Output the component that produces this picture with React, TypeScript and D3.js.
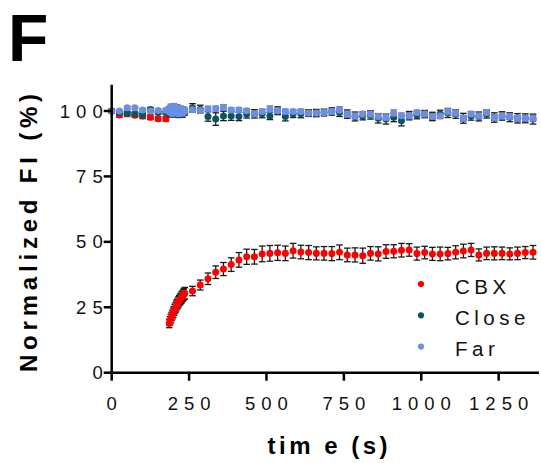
import React from "react";
import * as d3 from "d3";

const times = [0,25,50,75,100,125,150,175,
186,188.5,191,193.5,196,198.5,201,203.5,206,208.5,211,213.5,216,218.5,221,223.5,226,228.5,231,233.5,236,
261,286,311,336,361,386,411,436,461,486,511,536,561,586,611,636,661,686,711,736,761,786,811,836,861,886,911,936,961,986,1011,1036,1061,1086,1111,1136,1161,1186,1211,1236,1261,1286,1311,1336,1361];

const cbx = [100.0,98.5,98.9,98.4,98.1,97.6,97.0,97.0,
18.8,19.8,20.7,21.5,22.2,22.9,23.6,24.3,24.9,25.5,26.1,26.6,27.1,27.6,28.0,28.4,28.8,29.2,29.6,30.0,30.4,
31.2,33.5,35.9,38.4,39.6,41.3,43.1,44.3,44.3,45.4,45.6,45.8,45.6,46.6,46.1,45.9,45.6,45.6,45.5,46.0,45.0,45.0,44.7,45.6,45.4,46.3,46.4,46.8,46.9,45.5,45.9,45.4,45.4,45.5,46.0,46.5,46.9,45.0,45.6,45.6,45.6,45.4,45.6,45.9,46.0];
const cbxErr = [0.8,0.9,1.0,0.8,1.0,0.9,0.8,0.9,
1.6,1.6,1.7,1.6,1.7,1.8,1.7,1.8,1.8,1.9,1.8,1.9,2.0,1.9,2.0,2.0,2.1,2.0,2.1,2.1,2.2,
1.8,1.9,2.2,2.4,2.5,2.6,2.8,2.9,2.8,3.0,3.0,2.9,2.8,2.8,2.6,2.7,2.5,2.6,2.7,2.8,2.6,2.7,2.9,2.6,2.7,2.6,2.5,2.6,2.4,2.5,2.4,2.5,2.6,2.4,2.5,2.6,2.5,2.3,2.4,2.5,2.4,2.3,2.4,2.3,2.6];

const close = [100.0,99.4,99.1,98.9,98.5,100.6,99.4,99.4,
100.2,99.0,100.8,99.6,98.8,100.4,101.2,99.5,98.9,100.0,100.9,99.3,98.6,99.8,100.5,99.2,99.7,98.8,100.1,99.4,99.6,
101.2,100.7,97.9,96.9,98.1,98.1,97.9,98.8,98.9,98.9,98.1,100.1,97.9,98.9,98.9,99.2,99.2,99.4,
99.8,99.4,98.8,97.9,98.1,98.5,97.2,96.9,97.6,96.3,98.2,98.5,98.8,97.9,98.8,99.2,98.8,97.2,98.1,97.9,98.8,97.5,98.1,97.6,97.2,97.2,96.9];
const closeErr = [0.5,0.6,0.6,0.7,0.6,0.7,0.6,0.6,
1.0,1.1,1.0,1.2,1.1,1.0,1.2,1.1,1.0,1.1,1.2,1.0,1.1,1.2,1.0,1.1,1.0,1.2,1.1,1.0,1.1,
1.6,1.5,1.8,2.4,1.8,1.7,1.6,1.5,1.6,1.5,1.4,1.5,1.7,1.4,1.5,1.3,1.4,1.3,
1.4,1.5,1.6,1.7,1.5,1.6,1.8,1.9,1.7,2.0,1.6,1.5,1.4,1.6,1.5,1.7,1.6,1.9,1.6,1.7,1.5,1.8,1.6,1.7,1.8,1.7,1.9];

const far = [100.0,100.0,101.2,101.2,100.4,100.0,100.2,100.3,
100.8,99.5,101.5,100.2,99.0,100.9,101.8,100.0,99.3,100.6,101.2,99.8,98.9,100.4,101.0,99.6,100.2,99.1,100.5,99.8,100.1,
100.5,100.2,100.8,100.9,101.4,100.4,100.4,100.1,98.9,99.8,100.7,100.1,99.8,99.8,99.8,99.2,99.2,99.4,
99.8,100.4,98.8,98.1,98.8,98.8,97.9,97.5,99.2,98.2,98.2,99.4,98.8,97.9,98.1,99.8,99.2,97.2,98.8,98.1,99.4,97.5,98.1,97.9,97.2,97.2,97.2];
const farErr = [0.4,0.5,0.6,0.5,0.6,0.5,0.6,0.7,
1.0,0.9,1.1,1.0,0.9,1.2,1.0,1.1,0.9,1.0,1.2,1.0,0.9,1.1,1.0,1.2,1.0,0.9,1.1,1.0,1.0,
0.8,0.9,1.0,0.9,1.0,0.8,0.9,0.8,1.0,0.9,1.2,1.0,0.9,0.8,0.9,1.0,0.9,1.0,
0.9,1.2,1.0,1.1,1.0,1.1,1.0,1.1,1.2,1.0,1.1,0.9,1.0,1.1,1.0,1.2,1.2,1.1,1.0,1.1,1.0,1.1,1.2,1.0,1.1,1.2,1.1];

const seriesNames = ["CBX", "Close", "Far"];
const seriesColors = ["#ff0000", "#0b5560", "#6b8ee9"];
const errColors = ["#1a1a1a", "#1a1a1a", "#6a6a6a"];
const xTicks = [0, 250, 500, 750, 1000, 1250];
const yTicks = [0, 25, 50, 75, 100];

const FONT = "'Liberation Sans', Arial, sans-serif";

export default function App() {
  const x = d3.scaleLinear().domain([0, 1380]).range([111.7, 538.9]);
  const y = d3.scaleLinear().domain([0, 110]).range([372.7, 84.8]);
  const values = [cbx, close, far];
  const errs = [cbxErr, closeErr, farErr];
  const ls = 6;
  const capW = 3.3;
  return (
    <svg width={541} height={463} style={{ position: "fixed", left: 0, top: 0, background: "#fff" }}>
      <rect width={541} height={463} fill="#fff" />
      <text x={8} y={61} fontFamily={FONT} fontWeight="bold" fontSize={66}>F</text>

      {/* data */}
      {values.map((vals, si) => (
        <g key={si}>
          {vals.map((v, i) => (
            <g key={i} stroke={errColors[si]} strokeWidth={1.3}>
              <line x1={x(times[i])} x2={x(times[i])} y1={y(v - errs[si][i])} y2={y(v + errs[si][i])} />
              <line x1={x(times[i]) - capW} x2={x(times[i]) + capW} y1={y(v - errs[si][i])} y2={y(v - errs[si][i])} />
              <line x1={x(times[i]) - capW} x2={x(times[i]) + capW} y1={y(v + errs[si][i])} y2={y(v + errs[si][i])} />
            </g>
          ))}
          {vals.map((v, i) => (
            <circle key={"c" + i} cx={x(times[i])} cy={y(v)} r={3.5} fill={seriesColors[si]} />
          ))}
        </g>
      ))}

      {/* axes */}
      <g stroke="#000" strokeWidth={2.5} fill="none">
        <line x1={x(0)} x2={x(0)} y1={y(0) + 1.25} y2={y(110)} />
        <line x1={x(0) - 1.25} x2={x(1380)} y1={y(0)} y2={y(0)} />
        {yTicks.map((t) => (
          <line key={"yt" + t} x1={x(0) - 8} x2={x(0)} y1={y(t)} y2={y(t)} />
        ))}
        {xTicks.map((t) => (
          <line key={"xt" + t} x1={x(t)} x2={x(t)} y1={y(0)} y2={y(0) + 8} />
        ))}
      </g>
      {yTicks.map((t) => (
        <text key={"yl" + t} x={x(0) - 9 + ls} y={y(t)} dy="0.36em" textAnchor="end"
          fontFamily={FONT} fontSize={18.5} letterSpacing={ls} fill="#111">{t}</text>
      ))}
      {xTicks.map((t) => (
        <text key={"xl" + t} x={x(t) + ls / 2} y={410} textAnchor="middle"
          fontFamily={FONT} fontSize={18.5} letterSpacing={ls} fill="#111">{t}</text>
      ))}

      <text x={327.5 + 1.75} y={454} textAnchor="middle" fontFamily={FONT} fontWeight="bold"
        fontSize={24} letterSpacing={3.5}>tim e (s)</text>
      <text transform="translate(37,233) rotate(-90)" textAnchor="middle" fontFamily={FONT}
        fontWeight="bold" fontSize={24} letterSpacing={4.8} x={2.4}>Normalized FI (%)</text>

      {/* legend */}
      {seriesNames.map((n, i) => (
        <g key={n}>
          <circle cx={421} cy={284 + i * 31.3} r={3.1} fill={seriesColors[i]} />
          <text x={455} y={294 + i * 31} fontFamily={FONT} fontSize={20.5} letterSpacing={4.5}
            fill="#111">{n}</text>
        </g>
      ))}
    </svg>
  );
}
